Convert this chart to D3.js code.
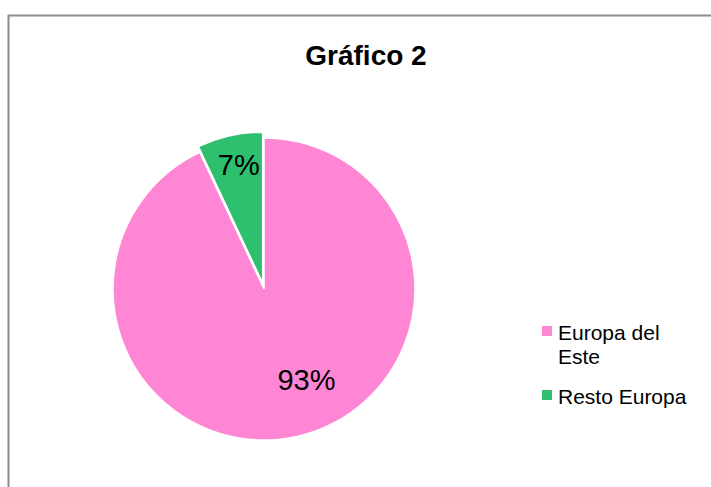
<!DOCTYPE html>
<html>
<head>
<meta charset="utf-8">
<script src="https://cdn.jsdelivr.net/npm/d3@7"></script>
<style>
  body { margin: 0; background: #fff; }
  text { font-family: "Liberation Sans", Arial, sans-serif; }
</style>
</head>
<body>
<div id="chart-area"></div>
<script>
const width = 711;
const height = 487;
const categories = ['Europa del Este', 'Resto Europa'];
const values = [93, 7];
const colors = ['#FF85D5', '#2EBF6F'];
const legendLines = [['Europa del', 'Este'], ['Resto Europa']];

const svg = d3.select('#chart-area')
  .append('svg')
  .attr('width', width)
  .attr('height', height);

// chart border (runs off the right and bottom edges)
svg.append('rect')
  .attr('x', 8.5)
  .attr('y', 15.5)
  .attr('width', width + 20)
  .attr('height', height + 20)
  .attr('fill', 'none')
  .attr('stroke', '#8c8c8c')
  .attr('stroke-width', 2);

svg.append('text')
  .attr('x', 366)
  .attr('y', 65)
  .attr('text-anchor', 'middle')
  .attr('font-size', '28px')
  .attr('font-weight', 'bold')
  .text('Gráfico 2');

const cx = 264, cy = 289, r = 151;
const explode = [0, 6];

const pie = d3.pie().sort(null).value(d => d);
const arc = d3.arc().innerRadius(0).outerRadius(r);
const arcs = pie(values);

const g = svg.append('g')
  .attr('transform', `translate(${cx}, ${cy})`);

const slices = g.selectAll('g.slice')
  .data(arcs)
  .enter()
  .append('g')
  .attr('class', 'slice')
  .attr('transform', (d, i) => {
    const a = (d.startAngle + d.endAngle) / 2;
    return `translate(${Math.sin(a) * explode[i]}, ${-Math.cos(a) * explode[i]})`;
  });

slices.append('path')
  .attr('d', arc)
  .attr('fill', (d, i) => colors[i])
  .attr('stroke', '#fff')
  .attr('stroke-width', 1.5);

// percentage labels (radius factor, angle shift in radians)
const labelPos = [0.66, 0.8];
const labelShift = [-0.22, 0.02];
slices.append('text')
  .attr('transform', (d, i) => {
    const a = (d.startAngle + d.endAngle) / 2 + labelShift[i];
    const rr = r * labelPos[i];
    return `translate(${Math.sin(a) * rr}, ${-Math.cos(a) * rr})`;
  })
  .attr('text-anchor', 'middle')
  .attr('dy', '0.36em')
  .attr('font-size', '29px')
  .text(d => d.data + '%');

// legend
const legendY = [326, 390];
const legend = svg.append('g');
categories.forEach((cat, i) => {
  legend.append('rect')
    .attr('x', 542)
    .attr('y', legendY[i])
    .attr('width', 10)
    .attr('height', 10)
    .attr('fill', colors[i]);
  legend.append('text')
    .attr('x', 558)
    .attr('y', legendY[i] + 14)
    .attr('font-size', '21px')
    .selectAll('tspan')
    .data(legendLines[i])
    .enter()
    .append('tspan')
    .attr('x', 558)
    .attr('dy', (d, j) => j === 0 ? 0 : 24)
    .text(d => d);
});
</script>
</body>
</html>
